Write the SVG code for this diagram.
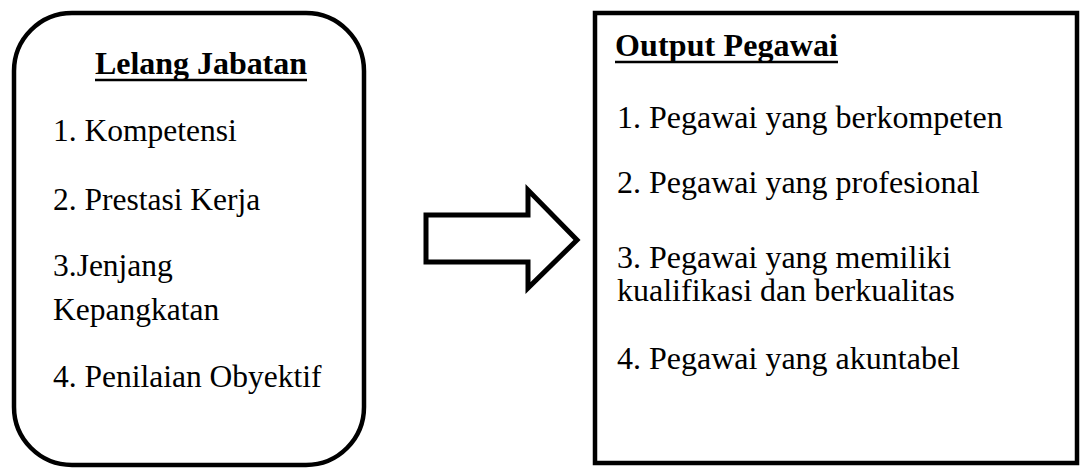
<svg xmlns="http://www.w3.org/2000/svg" width="1080" height="468" viewBox="0 0 1080 468">
<style>
.box{fill:#fff;stroke:#000;stroke-width:4.5}
.t{font-family:"Liberation Serif","Times New Roman",serif;font-size:32px;fill:#000}
.l{font-size:31.5px}
.h{font-weight:bold}
.ul{stroke:#000;stroke-width:2.6}
</style>
<rect width="1080" height="468" fill="#fff"/>
<g id="lelang-jabatan">
<rect class="box" x="14" y="13" width="350" height="452" rx="58" ry="58"/>
<text class="t h" x="95" y="74" textLength="212">Lelang Jabatan</text>
<line class="ul" x1="95" y1="80" x2="307" y2="80"/>
<text class="t l" x="53" y="141">1. Kompetensi</text>
<text class="t l" x="53" y="210">2. Prestasi Kerja</text>
<text class="t l" x="53" y="276">3.Jenjang</text>
<text class="t l" x="53" y="320">Kepangkatan</text>
<text class="t l" x="53" y="387">4. Penilaian Obyektif</text>
</g>
<g id="connectors">
<polygon points="426,215 528,215 528,190 577,240 528,288 528,262 426,262" fill="#fff" stroke="#000" stroke-width="5" stroke-linejoin="miter"/>
</g>
<g id="output-pegawai">
<rect class="box" x="595" y="13" width="482" height="450"/>
<text class="t h" x="615" y="56" textLength="223">Output Pegawai</text>
<line class="ul" x1="615" y1="62" x2="838" y2="62"/>
<text class="t" x="617" y="128">1. Pegawai yang berkompeten</text>
<text class="t" x="617" y="193">2. Pegawai yang profesional</text>
<text class="t" x="617" y="268">3. Pegawai yang memiliki</text>
<text class="t" x="617" y="301">kualifikasi dan berkualitas</text>
<text class="t" x="617" y="369">4. Pegawai yang akuntabel</text>
</g>
</svg>
